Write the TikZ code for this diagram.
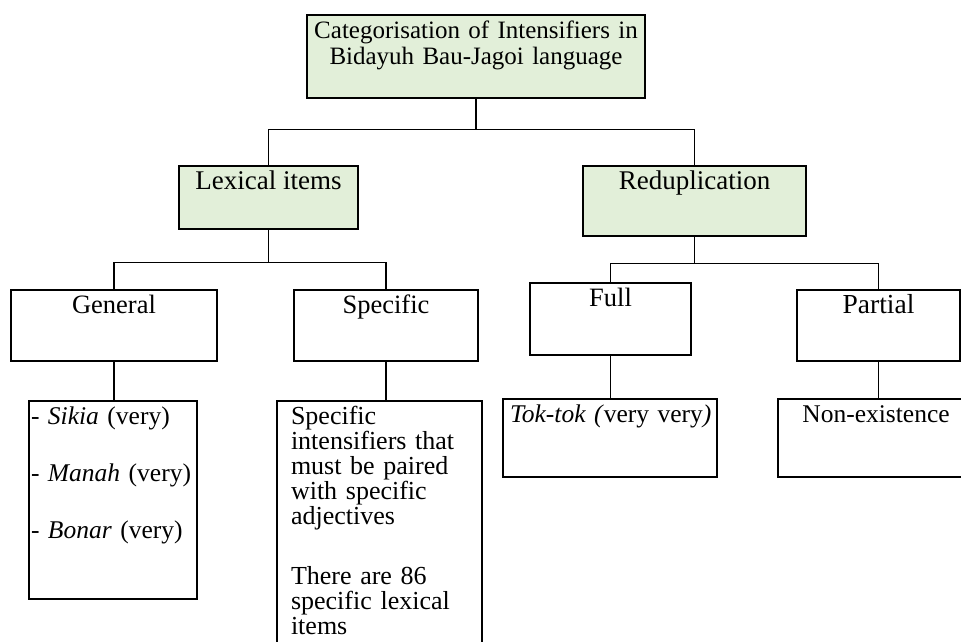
\documentclass[tikz,border=0pt]{standalone}
\usepackage{fontspec}
\setmainfont{Liberation Serif}
\usepackage{xcolor}
\usetikzlibrary{positioning}
\definecolor{Ink}{HTML}{000000}
\definecolor{Sage}{HTML}{E2EFD9}

\begin{document}
\begin{tikzpicture}[x=1pt, y=-1pt,
    box/.style={draw=Ink, line width=2.4pt, fill=white, inner xsep=6pt, inner ysep=5pt, text height=18pt, font=\fontsize{25.5}{26}\selectfont},
    head/.style={box, fill=Sage, font=\fontsize{27}{27}\selectfont},
    sub/.style={box, font=\fontsize{26.5}{27}\selectfont},
    link/.style={draw=Ink, line width=1.1pt}
  ]
    \useasboundingbox (0,0) rectangle (961,641);
    % top level
    \node[head, minimum width=338pt, text width=326pt, align=center, text depth=55pt, font=\fontsize{25}{26}\selectfont] (top) at (476,56.5) {Categorisation of Intensifiers in\\Bidayuh Bau-Jagoi language};
    \node[head, minimum width=179pt, text depth=35pt] (lex) at (268.5,197.5) {Lexical items};
    \node[head, minimum width=223pt, text depth=42pt] (red) at (694.5,201) {Reduplication};
    % second level
    \node[sub, minimum width=206pt, text depth=43pt] (gen) at (114,325.5) {General};
    \node[sub, minimum width=184pt, text depth=43pt] (spec) at (386,325.5) {Specific};
    \node[sub, minimum width=161pt, text depth=44pt] (full) at (610.5,319) {Full};
    \node[sub, minimum width=163pt, text depth=43pt, font=\fontsize{27.5}{27}\selectfont] (part) at (878.5,325.5) {Partial};
    % leaves
    \node[box, inner xsep=2pt, minimum width=168pt, text width=164pt, align=left, text depth=170pt] (genlist) at (113,500)
      {- \textit{Sikia} (very)\\[31pt]- \textit{Manah} (very)\\[31pt]- \textit{Bonar} (very)};
    \node[box, inner xsep=14pt, minimum width=205pt, text width=177pt, align=left, text depth=216pt, font=\fontsize{26}{25}\selectfont] (spectext) at (379.5,523)
      {Specific\\intensifiers that\\must be paired\\with specific\\adjectives\\[35pt]There are 86\\specific lexical\\items};
    \node[box, inner xsep=7pt, minimum width=214pt, text width=200pt, align=left, text depth=50pt] (tok) at (610,438)
      {\mbox{\textit{Tok-tok (}very very\textit{)}}};
    \node[box, minimum width=196pt, text depth=50pt] (nonex) at (876,438) {Non-existence};
    % connectors
    \draw[link] (top.south) -- ++(0,30) coordinate (j0);
    \draw[link] (lex.north) |- (j0) -| (red.north);
    \draw[link] (lex.south) -- ++(0,32) coordinate (j1);
    \draw[link] (gen.north) |- (j1) -| (spec.north);
    \draw[link] (red.south) -- ++(0,26) coordinate (j2);
    \draw[link] (full.north) |- (j2) -| (part.north);
    \draw[link] (gen.south) -- (gen.south |- genlist.north);
    \draw[link] (spec.south) -- (spec.south |- spectext.north);
    \draw[link] (full.south) -- (full.south |- tok.north);
    \draw[link] (part.south) -- (part.south |- nonex.north);
  \end{tikzpicture}
\end{document}
